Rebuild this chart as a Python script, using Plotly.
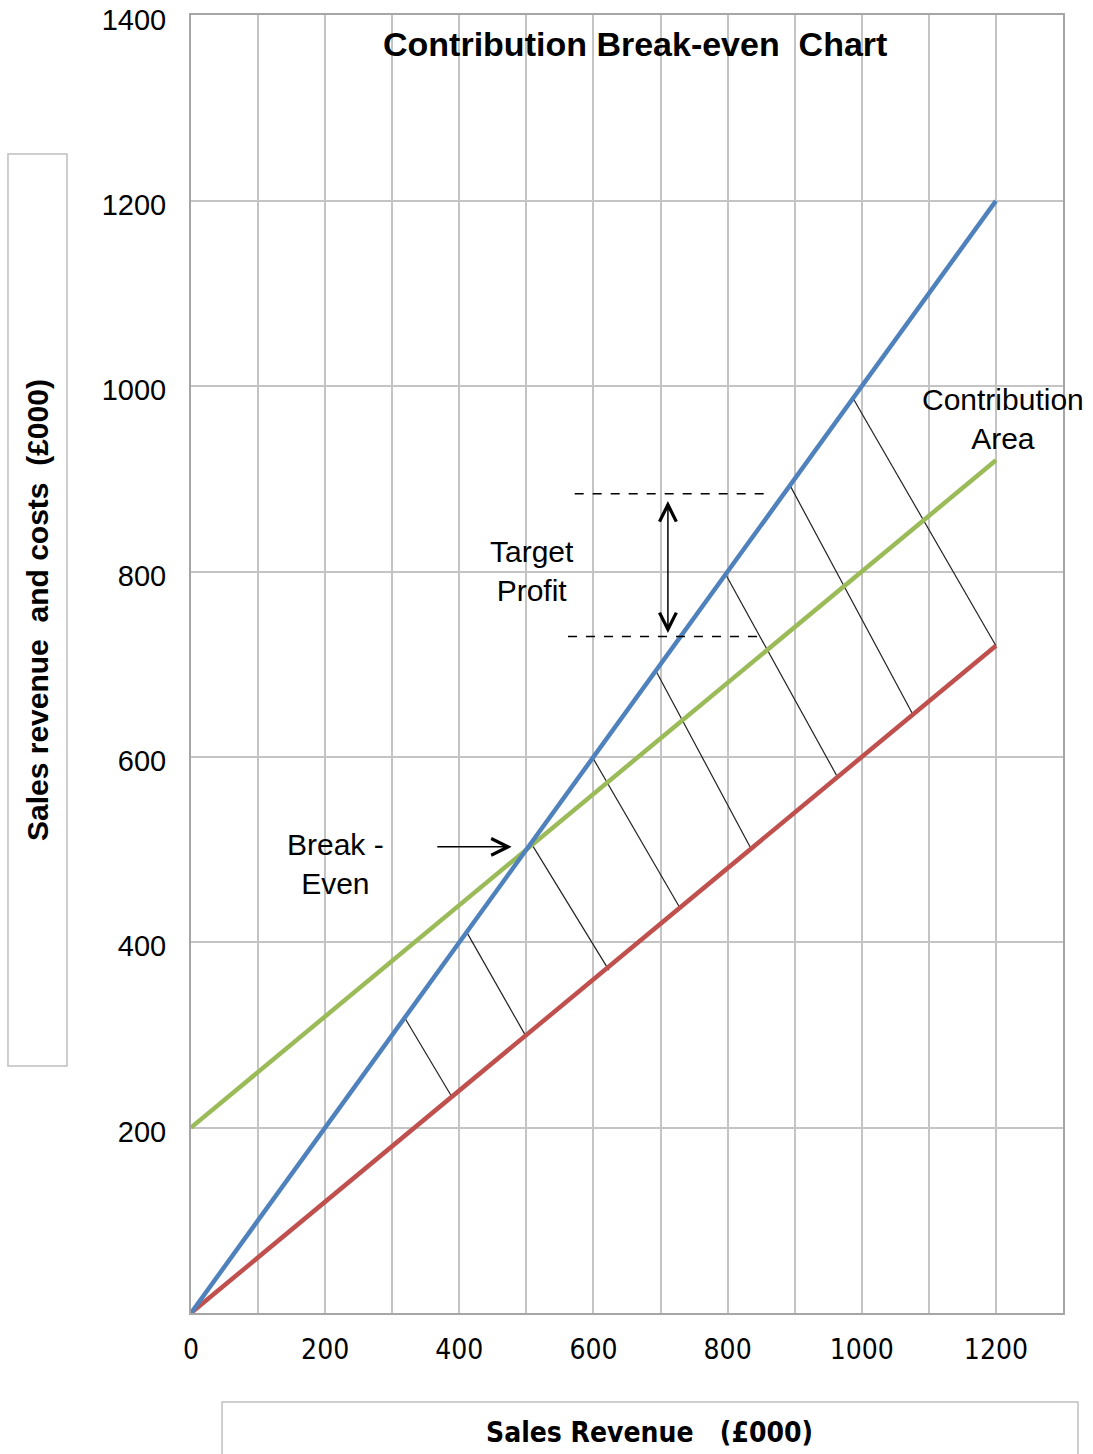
import plotly.graph_objects as go

# Sales revenue and cost lines (£000)
sales_x = [0, 1200]
sales_revenue = [0, 1200]
total_cost = [200, 920]
variable_cost = [0, 720]

# Contribution-area hatching: segments from the revenue line down to the variable cost line
hatch_x0 = [319, 411, 507, 599, 693, 797, 893, 987]
hatch_y0 = [318, 411, 507, 599, 693, 797, 893, 987]
hatch_x1 = [389, 499, 623, 729, 835, 964, 1076, 1200]
hatch_y1 = [233, 299, 370, 437, 501, 578, 646, 720]

# Target profit markers
target_upper = 884
target_lower = 730
target_upper_x = [572, 863]
target_lower_x = [562, 851]
target_arrow_x = 711

# Break-even point
break_even_x = 500
break_even_y = 500

x_labels = ["0", "200", "400", "600", "800", "1000", "1200"]
x_label_vals = [0, 200, 400, 600, 800, 1000, 1200]
y_label_vals = [200, 400, 600, 800, 1000, 1200, 1400]

BLUE = "#4F81BD"
GREEN = "#9BBB59"
RED = "#C0504D"
GRID = "#C4C4C4"
FONT = "Liberation Sans"
NARROW = "DejaVu Sans Condensed, Liberation Sans, sans-serif"

fig = go.Figure()

# hatching
hx, hy = [], []
for a, b, c, d in zip(hatch_x0, hatch_y0, hatch_x1, hatch_y1):
    hx += [a, c, None]
    hy += [b, d, None]
fig.add_trace(go.Scatter(x=hx, y=hy, mode="lines",
                         line=dict(color="#222222", width=1.2),
                         hoverinfo="skip", showlegend=False))

fig.add_trace(go.Scatter(x=sales_x, y=total_cost, mode="lines",
                         line=dict(color=GREEN, width=4.5), showlegend=False))
fig.add_trace(go.Scatter(x=sales_x, y=variable_cost, mode="lines",
                         line=dict(color=RED, width=4.5), showlegend=False))
fig.add_trace(go.Scatter(x=sales_x, y=sales_revenue, mode="lines",
                         line=dict(color=BLUE, width=4.5), showlegend=False))

# dashed target-profit lines
for xs, yv in ((target_upper_x, target_upper), (target_lower_x, target_lower)):
    fig.add_shape(type="line", xref="x", yref="y", x0=xs[0], x1=xs[1], y0=yv, y1=yv,
                  line=dict(color="black", width=1.5, dash="dash"))

# double-headed arrow between the target lines
fig.add_annotation(x=target_arrow_x, y=target_upper - 8, ax=target_arrow_x, ay=target_lower + 2,
                   xref="x", yref="y", axref="x", ayref="y", text="",
                   showarrow=True, arrowhead=5, startarrowhead=5, arrowside="end+start",
                   arrowsize=2.2, startarrowsize=2.2, arrowwidth=1.5, arrowcolor="black")

# break-even pointer
fig.add_annotation(x=break_even_x - 22, y=break_even_y + 3, ax=365, ay=break_even_y + 3,
                   xref="x", yref="y", axref="x", ayref="y", text="",
                   showarrow=True, arrowhead=5, arrowsize=2.2, arrowwidth=1.5, arrowcolor="black")

label_font = dict(family=FONT, size=30, color="black")
fig.add_annotation(x=508, y=801, xref="x", yref="y", text="Target<br>Profit",
                   showarrow=False, font=label_font, align="center")
fig.add_annotation(x=216, y=485, xref="x", yref="y", text="Break -<br>Even",
                   showarrow=False, font=label_font, align="center")
fig.add_annotation(x=1210, y=965, xref="x", yref="y", text="Contribution<br>Area",
                   showarrow=False, font=label_font, align="center")

# chart title
fig.add_annotation(x=0.509, y=0.9777, xref="paper", yref="paper",
                   xanchor="center", yanchor="middle",
                   text="<b>Contribution Break-even  Chart</b>", showarrow=False,
                   font=dict(family=FONT, size=34, color="black"))

# axis title boxes
fig.add_shape(type="rect", xref="paper", yref="paper", x0=-0.2099, x1=-0.1422,
              y0=0.1903, y1=0.8929, line=dict(color="#BFBFBF", width=1.5))
fig.add_shape(type="rect", xref="paper", yref="paper", x0=0.0356, x1=1.0172,
              y0=-0.115, y1=-0.0686, line=dict(color="#BFBFBF", width=1.5))

fig.add_annotation(x=-0.1766, y=0.5416, xref="paper", yref="paper", textangle=-90,
                   xanchor="center", yanchor="middle",
                   text="<b>Sales revenue  and costs  (£000)</b>", showarrow=False,
                   font=dict(family=FONT, size=30, color="black"))
fig.add_annotation(x=0.526, y=-0.0917, xref="paper", yref="paper",
                   xanchor="center", yanchor="middle",
                   text="<b>Sales Revenue   (£000)</b>", showarrow=False,
                   font=dict(family=NARROW, size=28, color="black"))

x_tickvals = list(range(0, 1301, 100))
x_ticktext = [x_labels[x_label_vals.index(v)] if v in x_label_vals else "" for v in x_tickvals]

fig.update_layout(
    width=1093, height=1454,
    margin=dict(l=191, r=30, t=15, b=141),
    paper_bgcolor="white", plot_bgcolor="white",
    xaxis=dict(range=[0, 1300], tickvals=x_tickvals, ticktext=x_ticktext,
               showgrid=True, gridcolor=GRID, gridwidth=2, zeroline=False,
               showline=True, linecolor="#A6A6A6", linewidth=2, mirror=True,
               ticks="", ticklabelstandoff=10, automargin=False,
               ticklabeloverflow="allow",
               tickfont=dict(family=NARROW, size=28, color="black")),
    yaxis=dict(range=[0, 1400.5], tickvals=y_label_vals,
               showgrid=True, gridcolor=GRID, gridwidth=2, zeroline=False,
               showline=True, linecolor="#A6A6A6", linewidth=2, mirror=True,
               ticks="", ticklabelstandoff=17, ticklabelshift=4, automargin=False,
               ticklabeloverflow="allow",
               tickfont=dict(family=FONT, size=29, color="black")),
)

fig.write_html("out.html")
